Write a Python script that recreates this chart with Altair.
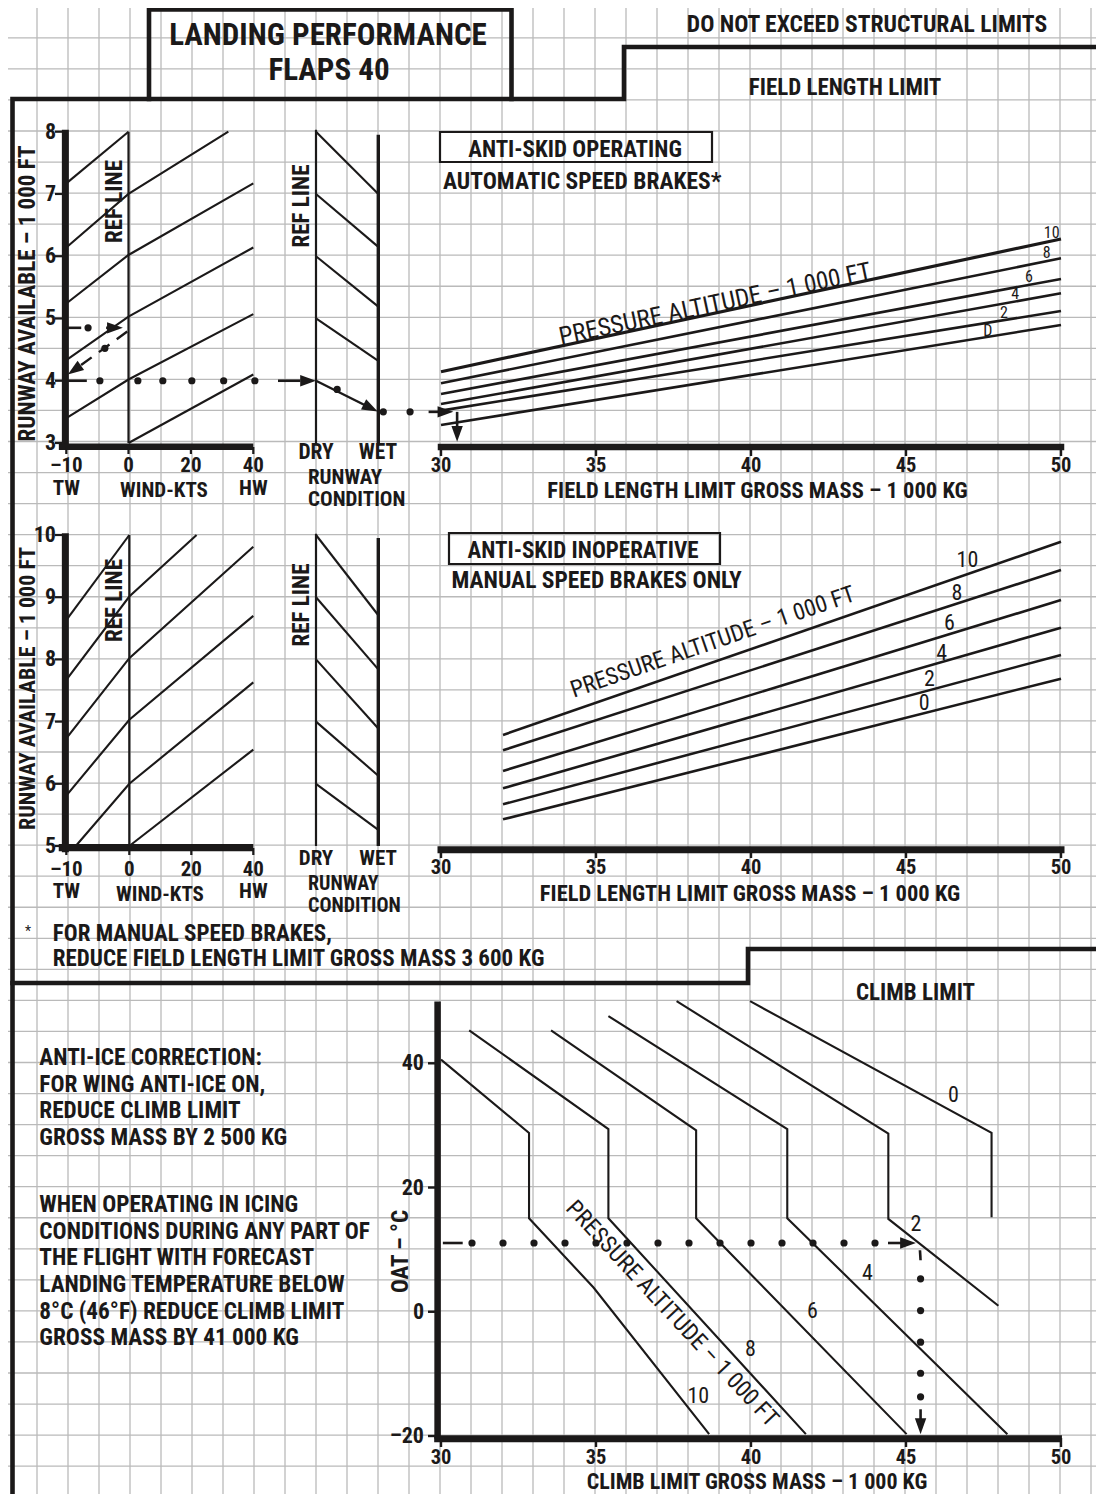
import altair as alt
import pandas as pd

# ============================ DATA ============================
WIND_TICKS = [-10, 0, 20, 40]
WIND_TICK_TEXT = ["–10\nTW", "0", "20", "40\nHW"]
RWY_TICKS_TOP = [3, 4, 5, 6, 7, 8]
RWY_TICKS_MID = [5, 6, 7, 8, 9, 10]
MASS_TICKS = [30, 35, 40, 45, 50]
OAT_TICKS = [-20, 0, 20, 40]
OAT_TICK_TEXT = ["–20", "0", "20", "40"]

# wind-correction guide lines  (wind kt, runway 1 000 ft)
TOP_WIND_GUIDES = [
    [(-10, 7.17), (0, 8.00)],
    [(-10, 6.14), (0, 7.00), (32, 8.00)],
    [(-10, 5.24), (0, 6.02), (40, 7.17)],
    [(-10, 4.33), (0, 5.03), (40, 6.14)],
    [(-10, 3.40), (0, 4.02), (40, 5.07)],
    [(0, 3.00), (40, 4.10)],
]
MID_WIND_GUIDES = [
    [(-10, 8.63), (0, 10.00)],
    [(-10, 7.67), (0, 9.01), (21.7, 10.00)],
    [(-10, 6.73), (0, 8.02), (40, 9.81)],
    [(-10, 5.81), (0, 7.03), (40, 8.70)],
    [(-8.5, 5.00), (0, 6.00), (40, 7.63)],
    [(0, 5.00), (40, 6.55)],
]
# runway-condition guide lines (value at DRY ref line -> value at WET)
TOP_COND_DRY = [8.0, 7.0, 6.0, 5.0]
TOP_COND_WET = [7.0, 6.15, 5.19, 4.32]
MID_COND_DRY = [10.0, 9.0, 8.0, 7.0, 6.0]
MID_COND_WET = [8.71, 7.84, 6.89, 6.13, 5.26]

# field length limit lines, pressure altitude 10,8,6,4,2,0
PALT_TOP_TEXT = ["10", "8", "6", "4", "2", "D"]
PALT_TEXT = ["10", "8", "6", "4", "2", "0"]
TOP_FLL_MASS = [30, 50]
TOP_FLL_RWY = [[4.145, 6.277], [3.959, 5.966], [3.787, 5.635],
               [3.626, 5.404], [3.520, 5.120], [3.290, 4.895]]
MID_FLL_MASS = [32, 50]
MID_FLL_RWY = [[6.785, 9.892], [6.538, 9.437], [6.206, 8.955],
               [5.927, 8.510], [5.670, 8.071], [5.429, 7.690]]
TOP_PALT_LABEL_POS = [(49.70, 6.373), (49.54, 6.05), (48.97, 5.67),
                      (48.52, 5.39), (48.16, 5.085), (47.64, 4.796)]
MID_PALT_LABEL_POS = [(46.98, 9.598), (46.64, 9.072), (46.40, 8.58),
                      (46.15, 8.108), (45.76, 7.68), (45.59, 7.294)]

# climb limit lines  (gross mass 1 000 kg, OAT degC)
CLIMB_LINES = [
    [(30.00, 40.6), (32.84, 28.8), (32.84, 15.06), (34.92, 3.9), (38.65, -19.7)],   # 10
    [(30.91, 45.3), (35.40, 29.4), (35.40, 15.06), (41.77, -19.7)],                 # 8
    [(33.55, 45.3), (38.23, 29.2), (38.23, 15.06), (45.02, -19.7)],                 # 6
    [(35.40, 47.6), (41.17, 29.4), (41.17, 15.06), (48.27, -19.7)],                 # 4
    [(37.60, 50.0), (44.43, 28.7), (44.43, 14.95), (47.98, 0.97)],                  # 2
    [(39.97, 50.0), (47.76, 28.8), (47.76, 15.2)],                                  # 0
]
CLIMB_LABEL_POS = [(38.30, -13.55), (39.98, -6.0), (41.98, 0.16),
                   (43.76, 6.24), (45.32, 14.15), (46.53, 34.95)]

# worked example, field length chart (wind kt / condition / mass , runway 1 000 ft)
EX_RWY_AVAIL = 4.85
EX_RWY_WIND = 4.0
EX_RWY_WET = 3.5
EX_DIAG = [(-0.2, 4.79), (-8.2, 4.21)]
EX_DIAG_DOT = [(-3.8, 4.52)]
EX_WIND_DOTS = [-4.6, 3, 11, 20.3, 30.5, 40.5]
EX_COND_LINE = [(0, 4.0), (0.86, 3.57)]
EX_COND_DOT = [(0.34, 3.86)]
EX_WET_DOTS = [1.08, 1.51]
EX_FLL_MASS = 30.52
# worked example, climb chart
EX_OAT = 11.07
EX_CLIMB_DOTS = [31, 32, 33, 34, 35, 36, 37, 38, 39, 40, 41, 42, 43, 44]
EX_CLIMB_MASS = 45.47
EX_CLIMB_VDOTS = [5.3, 0.2, -4.9, -9.9, -13.7]

NOTES_1 = "ANTI-ICE CORRECTION:\nFOR WING ANTI-ICE ON,\nREDUCE CLIMB LIMIT\nGROSS MASS BY 2 500 KG"
NOTES_2 = ("WHEN OPERATING IN ICING\nCONDITIONS DURING ANY PART OF\nTHE FLIGHT WITH FORECAST\n"
           "LANDING TEMPERATURE BELOW\n8°C (46°F) REDUCE CLIMB LIMIT\nGROSS MASS BY 41 000 KG")
FOOTNOTE = "FOR MANUAL SPEED BRAKES,\nREDUCE FIELD LENGTH LIMIT GROSS MASS 3 600 KG"

# ============================ LAYOUT & STYLE ============================
INK = "#1b1919"
GRID = "#bababa"
FONT = "'Liberation Sans Narrow', 'Arial Narrow', 'Roboto Condensed', 'DejaVu Sans Condensed', 'Liberation Sans', sans-serif"
W, H, M = 1088, 1486, 8


def lin(domain, page_range):
    return alt.Scale(domain=domain, range=[p - M for p in page_range], nice=False, zero=False)


SX_PAGE = lin([0, 1104], [0, 1104])
SY_PAGE = lin([0, 1494], [0, 1494])
SX_WIND_T = lin([-10, 0, 40], [66.3, 128.5, 253.3])
SX_WIND_M = lin([-10, 0, 40], [66.3, 129.3, 253.3])
SX_COND = lin([0, 1], [316, 378.3])
SX_MASS = lin([30, 50], [441, 1061])
SY_RWY_T = lin([3, 8], [443, 131.7])
SY_RWY_M = lin([5, 10], [846, 535])
SY_OAT = lin([-20, 40], [1436, 1063.3])

GRID_X = [6 + 31 * k for k in range(36)]
GRID_Y = [6.8 + 31.05 * k for k in range(49)]
FRAMES = [
    [(12.5, 1500), (12.5, 99), (624, 99), (624, 47), (1110, 47)],
    [(149, 99), (149, 9.5), (511.5, 9.5), (511.5, 99)],
    [(12.5, 983), (748, 983), (748, 949), (1110, 949)],
]
BOXES = [
    [(440, 132), (712, 132), (712, 162), (440, 162), (440, 132)],
    [(449, 533), (720, 533), (720, 564), (449, 564), (449, 533)],
]
ARROW = "M0,0L0.36,1L-0.36,1Z"

layers = []


def X(f, s):
    return alt.X(f + ":Q", scale=s, axis=None)


def Y(f, s):
    return alt.Y(f + ":Q", scale=s, axis=None)


def add_paths(paths, sx, sy, width, dash=None, cap="butt"):
    rows = []
    for i, p in enumerate(paths):
        for j, (x, y) in enumerate(p):
            rows.append({"id": i, "o": j, "x": x, "y": y})
    kw = dict(color=INK, strokeWidth=width, strokeCap=cap, strokeJoin="miter")
    if dash:
        kw["strokeDash"] = dash
    layers.append(alt.Chart(pd.DataFrame(rows)).mark_line(**kw).encode(
        x=X("x", sx), y=Y("y", sy), detail="id:N", order="o:Q"))


def add_hrules(segs, sx, sy, width, color=INK, cap="butt"):
    df = pd.DataFrame(segs, columns=["x", "x2", "y"])
    layers.append(alt.Chart(df).mark_rule(color=color, strokeWidth=width, strokeCap=cap).encode(
        x=X("x", sx), x2="x2:Q", y=Y("y", sy)))


def add_vrules(segs, sx, sy, width, color=INK, cap="butt"):
    df = pd.DataFrame(segs, columns=["x", "y", "y2"])
    layers.append(alt.Chart(df).mark_rule(color=color, strokeWidth=width, strokeCap=cap).encode(
        x=X("x", sx), y=Y("y", sy), y2="y2:Q"))


def add_text(rows, sx, sy, size, align="center", baseline="alphabetic", weight="bold",
             angle=None, line_height=None):
    df = pd.DataFrame(rows, columns=["x", "y", "t"])
    kw = dict(align=align, baseline=baseline, font=FONT, fontSize=size, fontWeight=weight, color=INK,
              lineBreak="\n")
    if angle is not None:
        kw["angle"] = angle
    if line_height is not None:
        kw["lineHeight"] = line_height
    layers.append(alt.Chart(df).mark_text(**kw).encode(x=X("x", sx), y=Y("y", sy), text="t:N"))


def add_dots(pts, sx, sy, size=52):
    df = pd.DataFrame(pts, columns=["x", "y"])
    layers.append(alt.Chart(df).mark_circle(size=size, color=INK, opacity=1).encode(
        x=X("x", sx), y=Y("y", sy)))


def add_heads(pts, sx, sy, size=1000):
    df = pd.DataFrame(pts, columns=["x", "y", "a"])
    layers.append(alt.Chart(df).mark_point(shape=ARROW, filled=True, size=size, color=INK,
                                           opacity=1, strokeWidth=0).encode(
        x=X("x", sx), y=Y("y", sy), angle=alt.Angle("a:Q", scale=None)))


# ---------------- graph paper ----------------
add_vrules([(gx, 0, 1494) for gx in GRID_X], SX_PAGE, SY_PAGE, 1.3, color=GRID)
add_hrules([(0, 1104, gy) for gy in GRID_Y], SX_PAGE, SY_PAGE, 1.3, color=GRID)

# ---------------- frames ----------------
add_paths(FRAMES, SX_PAGE, SY_PAGE, 4.6, cap="square")
add_paths(BOXES, SX_PAGE, SY_PAGE, 2.2, cap="square")

# ================= TOP: anti-skid operating =================
add_paths(TOP_WIND_GUIDES, SX_WIND_T, SY_RWY_T, 2.1)
add_vrules([(0, 3, 8)], SX_WIND_T, SY_RWY_T, 2.2)
add_vrules([(-10.15, 2.9, 8.03)], SX_WIND_T, SY_RWY_T, 7)
add_hrules([(-11.2, 40, 2.94)], SX_WIND_T, SY_RWY_T, 6.7)
add_hrules([(55, 63, v) for v in RWY_TICKS_TOP], SX_PAGE, SY_RWY_T, 2.2)
add_vrules([(v, 447, 454) for v in WIND_TICKS], SX_WIND_T, SY_PAGE, 2.2)
add_paths([[(0, d), (1, w)] for d, w in zip(TOP_COND_DRY, TOP_COND_WET)], SX_COND, SY_RWY_T, 2.1)
add_vrules([(0, 3, 8.03)], SX_COND, SY_RWY_T, 2.2)
add_vrules([(1, 3, 7.95)], SX_COND, SY_RWY_T, 3.4)
add_paths([[(m, r) for m, r in zip(TOP_FLL_MASS, rr)] for rr in TOP_FLL_RWY[:1]], SX_MASS, SY_RWY_T, 3.2)
add_paths([[(m, r) for m, r in zip(TOP_FLL_MASS, rr)] for rr in TOP_FLL_RWY[1:]], SX_MASS, SY_RWY_T, 2.6)
add_hrules([(30, 50, 2.935)], SX_MASS, SY_RWY_T, 6.5, cap="square")
add_vrules([(v, 447, 456) for v in MASS_TICKS], SX_MASS, SY_PAGE, 2.4)

# ================= MIDDLE: anti-skid inoperative =================
add_paths(MID_WIND_GUIDES, SX_WIND_M, SY_RWY_M, 2.1)
add_vrules([(0, 5, 10)], SX_WIND_M, SY_RWY_M, 2.2)
add_vrules([(-10.15, 4.9, 10.03)], SX_WIND_M, SY_RWY_M, 7)
add_hrules([(-11.2, 40, 4.975)], SX_WIND_M, SY_RWY_M, 7.2)
add_hrules([(55, 63, v) for v in RWY_TICKS_MID], SX_PAGE, SY_RWY_M, 2.2)
add_vrules([(v, 848, 855) for v in WIND_TICKS], SX_WIND_M, SY_PAGE, 2.2)
add_paths([[(0, d), (1, w)] for d, w in zip(MID_COND_DRY, MID_COND_WET)], SX_COND, SY_RWY_M, 2.1)
add_vrules([(0, 5, 10.02)], SX_COND, SY_RWY_M, 2.2)
add_vrules([(1, 5, 9.95)], SX_COND, SY_RWY_M, 3.4)
add_paths([[(m, r) for m, r in zip(MID_FLL_MASS, rr)] for rr in MID_FLL_RWY], SX_MASS, SY_RWY_M, 2.6)
add_hrules([(30, 50, 4.94)], SX_MASS, SY_RWY_M, 7, cap="square")
add_vrules([(v, 849, 858) for v in MASS_TICKS], SX_MASS, SY_PAGE, 2.4)

# ================= BOTTOM: climb limit =================
add_paths(CLIMB_LINES, SX_MASS, SY_OAT, 2.1)
add_vrules([(29.89, -20.45, 49.93)], SX_MASS, SY_OAT, 6.5)
add_hrules([(29.78, 50.03, -20.45)], SX_MASS, SY_OAT, 7)
add_hrules([(428, 436, v) for v in OAT_TICKS], SX_PAGE, SY_OAT, 2.4)
add_vrules([(v, 1438, 1447) for v in MASS_TICKS], SX_MASS, SY_PAGE, 2.4)

# ================= worked examples =================
add_hrules([(-10, -7.6, EX_RWY_AVAIL), (-3.6, -1.6, EX_RWY_AVAIL),
            (-10, -6.7, EX_RWY_WIND)], SX_WIND_T, SY_RWY_T, 2.6)
add_dots([(-6.5, EX_RWY_AVAIL)] + EX_DIAG_DOT + [(w, EX_RWY_WIND) for w in EX_WIND_DOTS],
         SX_WIND_T, SY_RWY_T)
add_paths([EX_DIAG], SX_WIND_T, SY_RWY_T, 2.4, dash=[13, 9])
add_heads([(-0.9, EX_RWY_AVAIL, 90), (-9.75, 4.10, 235)], SX_WIND_T, SY_RWY_T)
add_hrules([(-0.61, -0.25, EX_RWY_WIND)], SX_COND, SY_RWY_T, 2.6)
add_paths([EX_COND_LINE], SX_COND, SY_RWY_T, 2.4)
add_dots(EX_COND_DOT + [(c, EX_RWY_WET) for c in EX_WET_DOTS], SX_COND, SY_RWY_T)
add_heads([(0.0, EX_RWY_WIND, 90), (0.99, 3.505, 117)], SX_COND, SY_RWY_T)
add_hrules([(29.6, 29.95, EX_RWY_WET)], SX_MASS, SY_RWY_T, 2.6)
add_vrules([(EX_FLL_MASS, EX_RWY_WET, 3.25)], SX_MASS, SY_RWY_T, 2.6)
add_heads([(30.4, EX_RWY_WET, 90), (EX_FLL_MASS, 3.02, 180)], SX_MASS, SY_RWY_T)

add_hrules([(30.06, 30.7, EX_OAT), (44.42, 44.95, EX_OAT)], SX_MASS, SY_OAT, 2.6)
add_dots([(m, EX_OAT) for m in EX_CLIMB_DOTS] + [(EX_CLIMB_MASS, t) for t in EX_CLIMB_VDOTS],
         SX_MASS, SY_OAT)
add_paths([[(45.45, 9.9), (45.47, 8.3)]], SX_MASS, SY_OAT, 2.6)
add_vrules([(EX_CLIMB_MASS, -15.7, -17.3)], SX_MASS, SY_OAT, 2.6)
add_heads([(45.32, EX_OAT, 90), (EX_CLIMB_MASS, -19.7, 180)], SX_MASS, SY_OAT)

# ================= texts =================
add_text([(328, 45, "LANDING PERFORMANCE"), (329, 80, "FLAPS 40")], SX_PAGE, SY_PAGE, 31)
add_text([(867, 31.7, "DO NOT EXCEED STRUCTURAL LIMITS")], SX_PAGE, SY_PAGE, 23.6)
add_text([(845, 95, "FIELD LENGTH LIMIT"),
          (575, 157, "ANTI-SKID OPERATING"), (583, 558.3, "ANTI-SKID INOPERATIVE"),
          (915.5, 1000, "CLIMB LIMIT")],
         SX_PAGE, SY_PAGE, 23)
# axis titles of the gross-mass axes
add_text([(757.5, 497.5, "FIELD LENGTH LIMIT GROSS MASS – 1 000 KG"),
          (750, 900.5, "FIELD LENGTH LIMIT GROSS MASS – 1 000 KG")], SX_PAGE, SY_PAGE, 22.5)
add_text([(757, 1489.3, "CLIMB LIMIT GROSS MASS – 1 000 KG")], SX_PAGE, SY_PAGE, 22)
# wind / runway-condition captions
add_text([(164, 496.5, "WIND-KTS"), (160, 900.5, "WIND-KTS")], SX_PAGE, SY_PAGE, 21)
add_text([(316, 458.5, "DRY"), (378, 458.5, "WET")], SX_PAGE, SY_PAGE, 21.5)
add_text([(316, 865, "DRY"), (378, 865, "WET")], SX_PAGE, SY_PAGE, 21)
add_text([(308, 483.5, "RUNWAY\nCONDITION")], SX_PAGE, SY_PAGE, 21, align="left", line_height=22.5)
add_text([(308, 890, "RUNWAY\nCONDITION")], SX_PAGE, SY_PAGE, 20, align="left", line_height=21.5)
add_text([(443, 189, "AUTOMATIC SPEED BRAKES*"), (451.5, 588, "MANUAL SPEED BRAKES ONLY")],
         SX_PAGE, SY_PAGE, 23.5, align="left")
add_text([(52.8, 940.5, FOOTNOTE)], SX_PAGE, SY_PAGE, 23, align="left", line_height=25)
add_text([(28, 936, "*")], SX_PAGE, SY_PAGE, 14, weight="normal")
add_text([(39.3, 1065, NOTES_1), (39.3, 1212.3, NOTES_2)], SX_PAGE, SY_PAGE, 23.3,
         align="left", line_height=26.6)
add_text([(28.3, 293.5, "RUNWAY AVAILABLE – 1 000 FT"),
          (114.5, 201.5, "REF LINE"), (302, 206, "REF LINE"),
          (115, 600.5, "REF LINE"), (302, 605, "REF LINE"), (401, 1251.5, "OAT – °C")],
         SX_PAGE, SY_PAGE, 23, baseline="middle", angle=270)
add_text([(28.3, 688.5, "RUNWAY AVAILABLE – 1 000 FT")], SX_PAGE, SY_PAGE, 22,
         baseline="middle", angle=270)
# tick labels
add_text([(v, 471.5, t) for v, t in zip(WIND_TICKS, WIND_TICK_TEXT)], SX_WIND_T, SY_PAGE, 21,
         line_height=23)
add_text([(v, 875.5, t) for v, t in zip(WIND_TICKS, WIND_TICK_TEXT)], SX_WIND_M, SY_PAGE, 21,
         line_height=22.5)
add_text([(v, 471.5, str(v)) for v in MASS_TICKS] + [(v, 874, str(v)) for v in MASS_TICKS]
         + [(v, 1463.5, str(v)) for v in MASS_TICKS], SX_MASS, SY_PAGE, 20.5)
add_text([(56, v, str(v)) for v in RWY_TICKS_TOP], SX_PAGE, SY_RWY_T, 22, align="right", baseline="middle")
add_text([(56, v, str(v)) for v in RWY_TICKS_MID], SX_PAGE, SY_RWY_M, 22, align="right", baseline="middle")
add_text([(424, v, t) for v, t in zip(OAT_TICKS, OAT_TICK_TEXT)], SX_PAGE, SY_OAT, 22,
         align="right", baseline="middle")
# curve labels
add_text([(p[0], p[1], t) for p, t in zip(TOP_PALT_LABEL_POS, PALT_TOP_TEXT)], SX_MASS, SY_RWY_T, 16,
         baseline="middle", weight="normal")
add_text([(p[0], p[1], t) for p, t in zip(MID_PALT_LABEL_POS, PALT_TEXT)], SX_MASS, SY_RWY_M, 22,
         baseline="middle", weight="normal")
add_text([(p[0], p[1], t) for p, t in zip(CLIMB_LABEL_POS, PALT_TEXT)], SX_MASS, SY_OAT, 22,
         baseline="middle", weight="normal")
add_text([(38.84, 5.232, "PRESSURE ALTITUDE – 1 000 FT")], SX_MASS, SY_RWY_T, 25,
         baseline="middle", weight="normal", angle=348)
add_text([(38.77, 8.275, "PRESSURE ALTITUDE – 1 000 FT")], SX_MASS, SY_RWY_M, 23.5,
         baseline="middle", weight="normal", angle=341)
add_text([(37.45, -0.35, "PRESSURE ALTITUDE – 1 000 FT")], SX_MASS, SY_OAT, 23.5,
         baseline="middle", weight="normal", angle=47)

chart = alt.layer(*layers).resolve_scale(x="independent", y="independent").properties(
    width=W, height=H, padding=0, background="white",
    autosize=alt.AutoSizeParams(type="none"),
).configure_view(stroke=None)

chart.save("out.html", embed_options={"renderer": "svg", "actions": False})
